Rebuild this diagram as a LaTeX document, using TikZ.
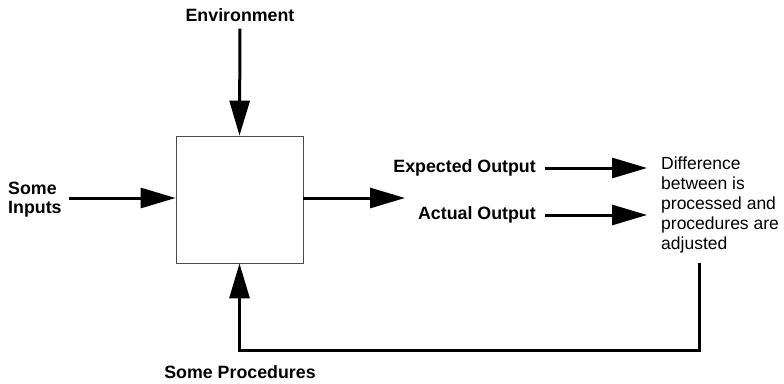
\documentclass[tikz,border=0pt]{standalone}
\usepackage{fontspec}
\setmainfont{Liberation Sans}
\usetikzlibrary{arrows.meta}
\begin{document}
\begin{tikzpicture}[x=1pt,y=-1pt,
  lbl/.style={font=\bfseries\fontsize{17.8}{19}\selectfont, inner sep=0pt},
  arr/.style={line width=3pt, -{Triangle[length=35pt,width=20pt]}}]
\useasboundingbox (0,0) rectangle (784,383);
\node[draw=black!70, line width=0.8pt, minimum size=127pt, inner sep=0pt] (box) at (239.5,199.5) {};
\node[lbl] (env) at (240,15) {Environment};
\node[lbl, align=left, anchor=west] (inp) at (8,200) {Some\\Inputs};
\node[lbl] (proc) at (240,372) {Some Procedures};
\node[lbl, anchor=east] (exp) at (536,168) {Expected Output};
\node[lbl, anchor=east] (act) at (536,215) {Actual Output};
\node[font=\fontsize{17.5}{20}\selectfont, align=left, anchor=north west, inner sep=0pt] (diff) at (661,157)
  {Difference\\between is\\processed and\\procedures are\\adjusted};
\coordinate (out) at (405,198);
\draw[arr, shorten <=7pt] (env.south) -- (box.north);
\draw[arr, shorten <=7pt] (inp.east |- 0,198) -- (box.west |- 0,198);
\draw[arr] (box.east |- out) -- (out);
\draw[arr, shorten <=9pt, shorten >=14pt] (exp.east) -- (exp.east -| diff.west);
\draw[arr, shorten <=9pt, shorten >=14pt] (act.east) -- (act.east -| diff.west);
\draw[arr] ([shift={(38,9)}]diff.south west) |- ([yshift=-87pt]box.south) -- (box.south);
\end{tikzpicture}
\end{document}
